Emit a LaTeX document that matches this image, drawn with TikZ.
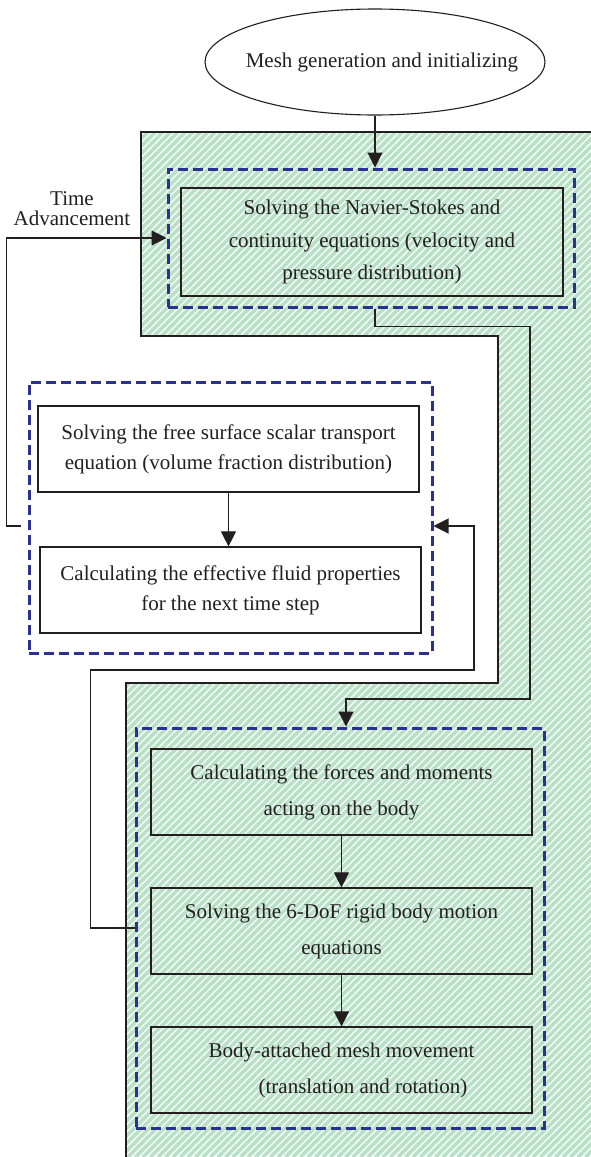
\documentclass[tikz,border=0pt]{standalone}
\usepackage{fontspec}
\setmainfont{Liberation Serif}
\usetikzlibrary{arrows.meta,positioning,calc,shapes.geometric}
\definecolor{hatchgreen}{HTML}{B8E1C6}
\definecolor{grpblue}{HTML}{2B3192}
\definecolor{ink}{HTML}{231F20}

\begin{document}
\begin{tikzpicture}[x=1pt,y=-1pt,
  every node/.style={font=\fontsize{21}{32}\selectfont, text=ink},
  procbox/.style={draw=ink, line width=1.2pt, minimum width=381pt, minimum height=86pt, align=center, inner sep=0pt},
  grpbox/.style={draw=grpblue, line width=3pt, dash pattern=on 10pt off 5pt, inner sep=0pt},
  flow/.style={draw=ink, line width=1.1pt, -{Triangle[length=15pt,width=15pt]}},
  wire/.style={draw=ink, line width=1.1pt}]
  \useasboundingbox (0,0) rectangle (591,1157);
  \fill[white] (0,0) rectangle (591,1157);
  % hatched region
  \begin{scope}
    \clip (141,132) -- (591,132) -- (591,1157) -- (126,1157) -- (126,683) -- (498,683) -- (498,336) -- (141,336) -- cycle;
    \foreach \c in {250,257.5,...,1750} \draw[hatchgreen, line width=3.8pt] ({\c-1157},1157) -- (\c,0);
  \end{scope}
  \draw[wire] (591,132) -- (141,132) -- (141,336) -- (498,336) -- (498,683) -- (126,683) -- (126,1157);

  \node[ellipse, draw=ink, line width=1.1pt, fill=white, minimum width=340pt, minimum height=106pt, inner sep=0pt] (mesh) at (375,62) {};
  \node (meshtxt) at (382,62) {Mesh generation and initializing};

  \node[grpbox, minimum width=406pt, minimum height=138pt] (grpA) at (371,238) {};
  \node[procbox, minimum width=382pt, minimum height=108pt, font=\fontsize{21}{32.5}\selectfont] (ns) at (372,242) {Solving the Navier-Stokes and\\continuity equations (velocity and\\pressure distribution)};
  \node[align=center, font=\fontsize{21}{20}\selectfont] (tadv) at (72,209) {Time\\Advancement};

  \node[grpbox, minimum width=403pt, minimum height=271pt] (grpB) at (230.5,517.5) {};
  \node[procbox, font=\fontsize{21}{30}\selectfont] (vof) at (228.5,449) {Solving the free surface scalar transport\\equation (volume fraction distribution)};
  \node[procbox, font=\fontsize{21}{30}\selectfont] (prop) at (230.5,590) {Calculating the effective fluid properties\\for the next time step};

  \node[grpbox, minimum width=408pt, minimum height=400pt] (grpC) at (340,928) {};
  \node[procbox, font=\fontsize{21}{36}\selectfont] (force) at (341.5,792) {Calculating the forces and moments\\acting on the body};
  \node[procbox, font=\fontsize{21}{36}\selectfont] (sixdof) at (341.5,931) {Solving the 6-DoF rigid body motion\\equations};
  \node[procbox, font=\fontsize{21}{36}\selectfont] (meshmove) at (341.5,1070) {Body-attached mesh movement\\\hspace*{43pt}(translation and rotation)};

  % connectors
  \draw[flow] (mesh.south) -- (mesh.south |- grpA.north);
  \draw[flow] ($(grpA.south)+(4,0)$) -- ++(0,18) -| (530,699) -| ($(grpC.north)+(6,0)$);
  \draw[flow] ($(grpB.west)+(-7,8.5)$) -| ($(grpA.west)+(-160,0)$) -- (grpA.west);
  \draw[flow] (grpC.west) -- ++(-44,0) |- (474,670) |- ($(grpB.east)+(0,8.5)$);
  \draw[flow] (vof.south) -- (vof.south |- prop.north);
  \draw[flow] (force.south) -- (force.south |- sixdof.north);
  \draw[flow] (sixdof.south) -- (sixdof.south |- meshmove.north);
\end{tikzpicture}
\end{document}
